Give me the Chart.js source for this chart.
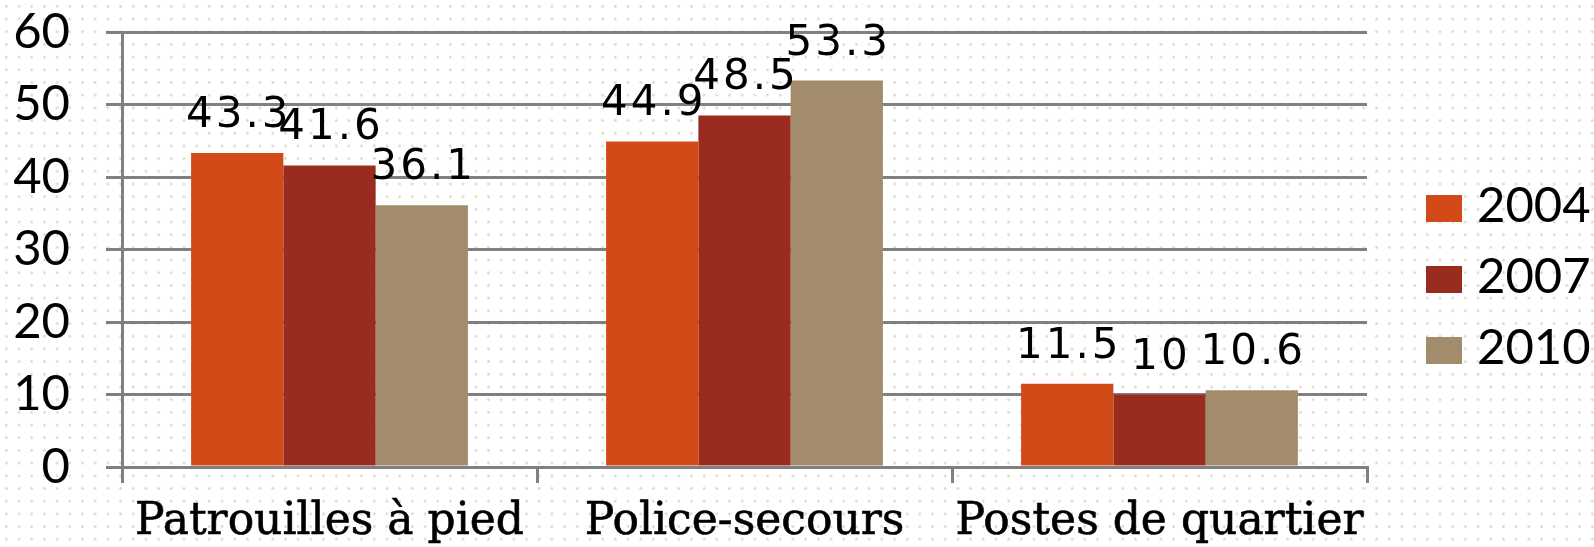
<!DOCTYPE html>
<html>
<head>
<meta charset="utf-8">
<script src="https://cdn.jsdelivr.net/npm/chart.js@4.4.1/dist/chart.umd.min.js"></script>
<style>
  html, body { margin: 0; padding: 0; }
  body {
    width: 1594px;
    height: 547px;
    background-color: #ffffff;
    background-image: radial-gradient(circle, #dedbcc 1.1px, transparent 1.6px);
    background-size: 12.7px 12.7px;
    overflow: hidden;
  }
  #wrap { position: relative; width: 1594px; height: 547px; }
  #chart { position: absolute; left: 0; top: 0; }
  .legend-item { position: absolute; left: 1426px; height: 40px; }
  .legend-box { position: absolute; left: 0; width: 36px; height: 27px; }
  .legend-text {
    position: absolute; left: 51px; top: -16px;
    font-family: Lato, sans-serif; font-size: 49px; line-height: 49px;
    color: #000; white-space: nowrap;
  }
</style>
</head>
<body>
<div id="wrap">
  <canvas id="chart" width="1594" height="547"></canvas>
  <div id="legend"></div>
</div>
<script>
// data
const categories = ["Patrouilles à pied", "Police-secours", "Postes de quartier"];
const years = ["2004", "2007", "2010"];
const values2004 = [43.3, 44.9, 11.5];
const values2007 = [41.6, 48.5, 10];
const values2010 = [36.1, 53.3, 10.6];
const colors = ["#d24a18", "#992c1f", "#a38c6b"];

// draw the value above each bar
const valueLabels = {
  id: "valueLabels",
  afterDatasetsDraw(chart) {
    const ctx = chart.ctx;
    ctx.save();
    ctx.font = "42px 'DejaVu Sans'";
    ctx.letterSpacing = "3px";
    ctx.fillStyle = "#000";
    ctx.textAlign = "center";
    ctx.textBaseline = "alphabetic";
    chart.data.datasets.forEach((ds, i) => {
      const meta = chart.getDatasetMeta(i);
      meta.data.forEach((bar, j) => {
        ctx.fillText(String(ds.data[j]), bar.x + 1.5, bar.y - 26);
      });
    });
    ctx.restore();
  }
};

const ctx = document.getElementById("chart").getContext("2d");
const chart = new Chart(ctx, {
  type: "bar",
  data: {
    labels: categories,
    datasets: [
      { label: years[0], data: values2004, backgroundColor: colors[0] },
      { label: years[1], data: values2007, backgroundColor: colors[1] },
      { label: years[2], data: values2010, backgroundColor: colors[2] },
    ],
  },
  options: {
    responsive: false,
    animation: false,
    layout: { padding: { top: 32, left: 0, right: 227, bottom: 0 } },
    datasets: { bar: { categoryPercentage: 0.667, barPercentage: 1.0 } },
    scales: {
      x: {
        grid: {
          offset: true,
          drawOnChartArea: false,
          drawTicks: true,
          tickLength: 16,
          color: "#808080",
          lineWidth: 3,
        },
        border: { color: "#808080", width: 3 },
        ticks: {
          color: "#000",
          padding: 13,
          textStrokeColor: "#000",
          textStrokeWidth: 0.6,
          font: { family: "'DejaVu Serif'", size: 44 },
        },
        afterFit(scale) {
          scale.height = 80;
        },
      },
      y: {
        min: 0,
        max: 60,
        grid: { color: "#808080", lineWidth: 3, tickLength: 16 },
        border: { color: "#808080", width: 3 },
        ticks: {
          stepSize: 10,
          color: "#000",
          padding: 36,
          crossAlign: "near",
          font: { family: "Lato", size: 49 },
        },
        afterFit(scale) {
          scale.width = 122;
          scale.paddingTop = 0;
          scale.paddingBottom = 0;
        },
      },
    },
    plugins: {
      legend: { display: false },
      tooltip: { enabled: false },
    },
  },
  plugins: [valueLabels],
});

// html legend on the right
const legendEl = document.getElementById("legend");
chart.data.datasets.forEach((ds, i) => {
  const item = document.createElement("div");
  item.className = "legend-item";
  item.style.top = (195 + i * 71) + "px";
  const box = document.createElement("div");
  box.className = "legend-box";
  box.style.background = ds.backgroundColor;
  const txt = document.createElement("span");
  txt.className = "legend-text";
  txt.textContent = ds.label;
  item.appendChild(box);
  item.appendChild(txt);
  legendEl.appendChild(item);
});
</script>
</body>
</html>
